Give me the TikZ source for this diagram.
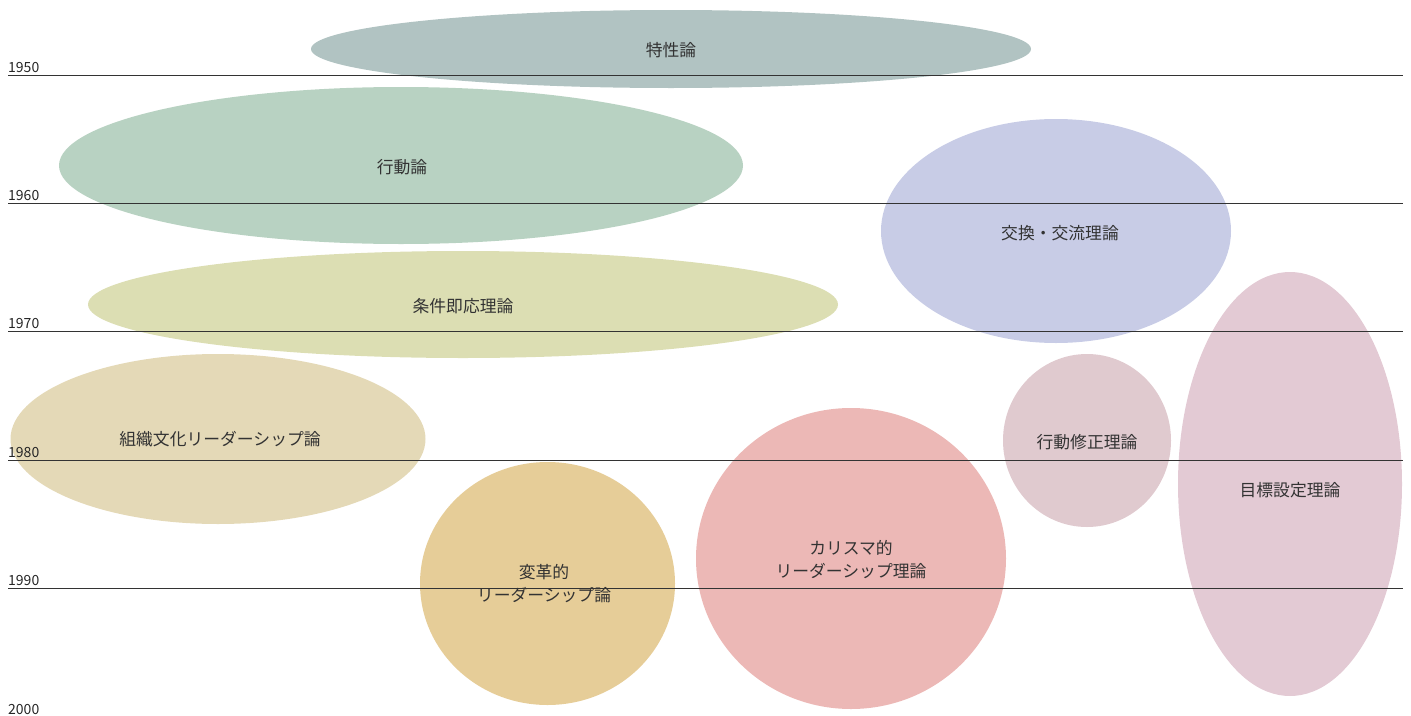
\documentclass[tikz,border=0pt]{standalone}
\usepackage{fontspec}
\setmainfont{Noto Sans CJK JP}
\begin{document}
\begin{tikzpicture}[x=1pt,y=-1pt,
  blob/.style={ellipse,draw=none},
  lbl/.style={font=\fontsize{16.8}{23}\selectfont,text=black!80,align=center,inner sep=0pt},
  yr/.style={font=\fontsize{14}{16}\selectfont,text=black!85,anchor=base west,inner sep=0pt},
  yline/.style={draw=black!80,line width=0.9pt}]
\useasboundingbox (0,0) rectangle (1411,715);
\definecolor{cA}{HTML}{B1C3C2}
\definecolor{cB}{HTML}{B8D2C2}
\definecolor{cC}{HTML}{DCDEB3}
\definecolor{cD}{HTML}{C8CCE6}
\definecolor{cE}{HTML}{E4D9B7}
\definecolor{cF}{HTML}{E3CAD4}
\definecolor{cG}{HTML}{E0CACF}
\definecolor{cH}{HTML}{ECB8B6}
\definecolor{cI}{HTML}{E6CD98}
% ellipses
\fill[cA] (671,49) ellipse [x radius=360, y radius=39];
\fill[cB] (401,165.5) ellipse [x radius=342, y radius=78.5];
\fill[cC] (463,304.5) ellipse [x radius=375, y radius=53.5];
\fill[cD] (1056,231) ellipse [x radius=175, y radius=112];
\fill[cE] (218,439) ellipse [x radius=207.5, y radius=85];
\fill[cF] (1290,484) ellipse [x radius=112, y radius=212];
\fill[cG] (1087,440.5) ellipse [x radius=84, y radius=86.5];
\fill[cH] (851,558.5) ellipse [x radius=155, y radius=150.5];
\fill[cI] (547.5,583.5) ellipse [x radius=127.5, y radius=121.5];
% year lines
\coordinate (l1a) at (8,75);  \coordinate (l1b) at (1403,75);
\coordinate (l2a) at (8,203); \coordinate (l2b) at (1403,203);
\coordinate (l3a) at (8,331); \coordinate (l3b) at (1403,331);
\coordinate (l4a) at (8,460); \coordinate (l4b) at (1403,460);
\coordinate (l5a) at (8,588); \coordinate (l5b) at (1403,588);
\draw[yline] (l1a) -- (l1b);
\draw[yline] (l2a) -- (l2b);
\draw[yline] (l3a) -- (l3b);
\draw[yline] (l4a) -- (l4b);
\draw[yline] (l5a) -- (l5b);
\node[yr] (y1950) at (8,72) {1950};
\node[yr] (y1960) at (8,200) {1960};
\node[yr] (y1970) at (8,328) {1970};
\node[yr] (y1980) at (8,457) {1980};
\node[yr] (y1990) at (8,585) {1990};
\node[yr] (y2000) at (8,714) {2000};
% labels
\node[lbl] (t1) at (671,50) {特性論};
\node[lbl] (t2) at (402,167) {行動論};
\node[lbl] (t3) at (463,306) {条件即応理論};
\node[lbl] (t4) at (1060,233) {交換・交流理論};
\node[lbl] (t5) at (220,439) {組織文化リーダーシップ論};
\node[lbl] (t6) at (1290,490) {目標設定理論};
\node[lbl] (t7) at (1087,442) {行動修正理論};
\node[lbl] (t8) at (851,560) {カリスマ的\\リーダーシップ理論};
\node[lbl] (t9) at (544,584) {変革的\\リーダーシップ論};
\end{tikzpicture}
\end{document}
